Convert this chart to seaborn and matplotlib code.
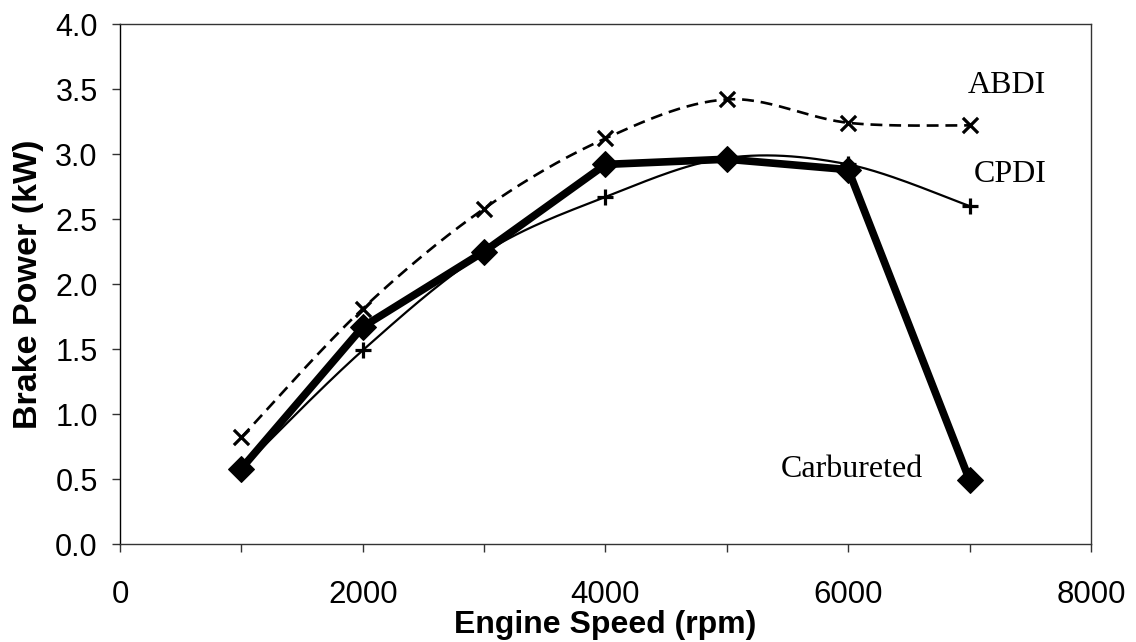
import numpy as np
import pandas as pd
import matplotlib
matplotlib.use('Agg')
import matplotlib.pyplot as plt
import seaborn as sns
from matplotlib.ticker import MultipleLocator, FormatStrFormatter

# values
speed = [1000, 2000, 3000, 4000, 5000, 6000, 7000]
abdi = [0.82, 1.81, 2.58, 3.12, 3.42, 3.24, 3.22]
cpdi = [0.58, 1.49, 2.24, 2.67, 2.97, 2.92, 2.60]
carbureted = [0.58, 1.67, 2.25, 2.92, 2.96, 2.88, 0.49]

series_labels = ['ABDI', 'CPDI', 'Carbureted']
x_label = 'Engine Speed (rpm)'
y_label = 'Brake Power (kW)'


def smooth(x, y, n=30):
    # excel style smoothed line: bezier segments through every point
    p = np.column_stack([np.asarray(x, float), np.asarray(y, float)])
    k = len(p)
    t = np.linspace(0, 1, n, endpoint=False)[:, None]
    out = []
    for i in range(k - 1):
        p0 = p[max(i - 1, 0)]
        p1 = p[i]
        p2 = p[i + 1]
        p3 = p[min(i + 2, k - 1)]
        c1 = p1 + (p2 - p0) / 6
        c2 = p2 - (p3 - p1) / 6
        seg = ((1 - t) ** 3) * p1 + 3 * ((1 - t) ** 2) * t * c1 + 3 * (1 - t) * t ** 2 * c2 + t ** 3 * p2
        out.append(seg)
    out.append(p[-1:])
    out = np.vstack(out)
    return out[:, 0], out[:, 1]


sns.set_style('ticks')
plt.rcParams['font.family'] = ['Liberation Sans', 'DejaVu Sans']
plt.rcParams['text.color'] = 'black'
plt.rcParams['axes.labelcolor'] = 'black'
plt.rcParams['xtick.labelcolor'] = 'black'
plt.rcParams['ytick.labelcolor'] = 'black'

fig, ax = plt.subplots(figsize=(11.36, 6.42), dpi=100)
fig.subplots_adjust(left=0.1056, right=0.9604, bottom=0.1526, top=0.9626)

# carbureted: thick straight line with diamonds
sns.lineplot(x=speed, y=carbureted, ax=ax, color='black', lw=5.5, marker='D',
             markersize=13, markeredgecolor='black', estimator=None, sort=False)

# CPDI: thin smoothed line with plus markers
sx, sy = smooth(speed, cpdi)
sns.lineplot(x=sx, y=sy, ax=ax, color='black', lw=1.6, estimator=None, sort=False)
sns.scatterplot(x=speed[1:], y=cpdi[1:], ax=ax, marker='+', s=130, color='black',
                linewidth=2.3, zorder=4)

# ABDI: dashed smoothed line with x markers
sx, sy = smooth(speed, abdi)
sns.lineplot(x=sx, y=sy, ax=ax, color='black', lw=1.9, linestyle=(0, (4.5, 2.6)),
             estimator=None, sort=False)
sns.scatterplot(x=speed, y=abdi, ax=ax, marker='x', s=120, color='black',
                linewidth=2.3, zorder=4)

serif = ['Liberation Serif', 'DejaVu Serif']
ax.text(6985, 3.53, series_labels[0], family=serif, fontsize=23, va='center', ha='left')
ax.text(7030, 2.84, series_labels[1], family=serif, fontsize=23, va='center', ha='left')
ax.text(5440, 0.57, series_labels[2], family=serif, fontsize=23, va='center', ha='left')

ax.set_xlim(0, 8000)
ax.set_ylim(0, 4.0)
ax.xaxis.set_major_locator(MultipleLocator(2000))
ax.xaxis.set_minor_locator(MultipleLocator(1000))
ax.yaxis.set_major_locator(MultipleLocator(0.5))
ax.yaxis.set_major_formatter(FormatStrFormatter('%.1f'))

ax.tick_params(axis='both', which='both', direction='out', length=6, width=1, color='#333333')
ax.tick_params(axis='x', which='major', labelsize=22.5, pad=20)
ax.tick_params(axis='y', which='major', labelsize=22, pad=10)

ax.set_xlabel(x_label, fontsize=23, fontweight='bold', labelpad=0)
ax.set_ylabel(y_label, fontsize=24.5, fontweight='bold', labelpad=8)

for side in ['left', 'bottom', 'top', 'right']:
    ax.spines[side].set_visible(True)
    ax.spines[side].set_color('#333333')
    ax.spines[side].set_linewidth(1)
ax.spines['left'].set_color('black')

fig.savefig('out.png', dpi=100)
